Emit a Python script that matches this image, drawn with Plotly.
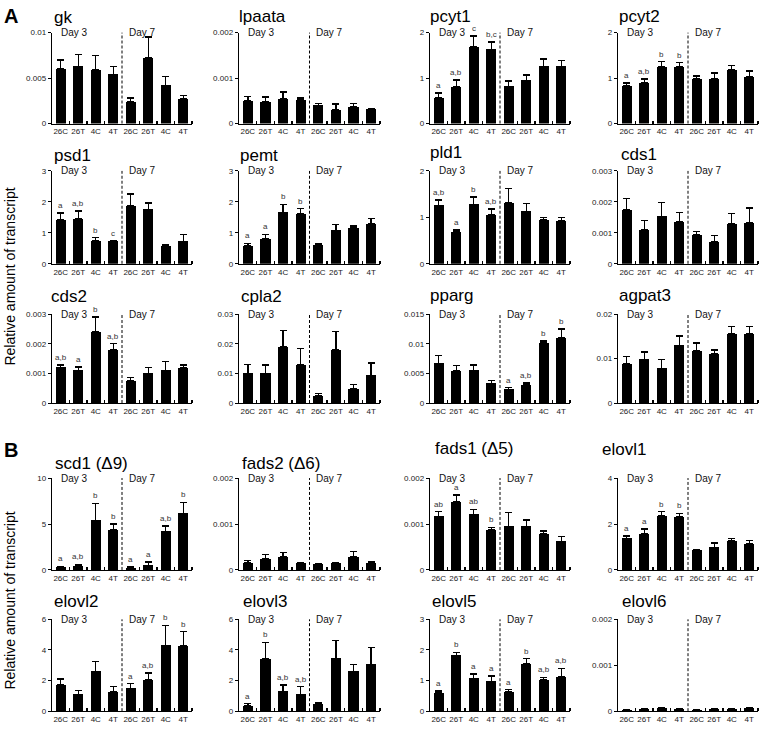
import plotly.graph_objects as go

# ---------------- data ----------------
conditions = ["26C", "26T", "4C", "4T", "26C", "26T", "4C", "4T"]

gk_vals = [0.0060, 0.0063, 0.0059, 0.0054, 0.0024, 0.0072, 0.0042, 0.0027]
gk_err = [0.0010, 0.0013, 0.0016, 0.0009, 0.0004, 0.0023, 0.0010, 0.0004]
lpaata_vals = [0.00050, 0.00047, 0.00055, 0.00052, 0.00040, 0.00030, 0.00036, 0.00031]
lpaata_err = [0.00010, 0.00011, 0.00014, 0.00004, 0.00004, 0.00013, 0.00008, 0.00001]
pcyt1_vals = [0.57, 0.80, 1.68, 1.63, 0.82, 0.95, 1.26, 1.26]
pcyt1_err = [0.10, 0.16, 0.25, 0.16, 0.12, 0.12, 0.16, 0.13]
pcyt2_vals = [0.83, 0.89, 1.24, 1.24, 0.98, 0.98, 1.18, 1.02]
pcyt2_err = [0.06, 0.09, 0.12, 0.10, 0.07, 0.13, 0.10, 0.14]
psd1_vals = [1.43, 1.45, 0.74, 0.73, 1.86, 1.76, 0.58, 0.72]
psd1_err = [0.21, 0.26, 0.10, 0.02, 0.39, 0.20, 0.05, 0.22]
pemt_vals = [0.58, 0.80, 1.66, 1.61, 0.61, 1.08, 1.17, 1.30]
pemt_err = [0.08, 0.15, 0.26, 0.17, 0.05, 0.19, 0.05, 0.17]
pld1_vals = [1.26, 0.68, 1.28, 1.05, 1.31, 1.13, 0.94, 0.93]
pld1_err = [0.11, 0.05, 0.16, 0.13, 0.31, 0.17, 0.06, 0.07]
cds1_vals = [0.00175, 0.00110, 0.00153, 0.00136, 0.00093, 0.00070, 0.00130, 0.00132]
cds1_err = [0.00035, 0.00029, 0.00044, 0.00029, 0.00011, 0.00021, 0.00032, 0.00048]
cds2_vals = [0.00120, 0.00110, 0.00240, 0.00180, 0.00076, 0.00100, 0.00110, 0.00118]
cds2_err = [0.00008, 0.00012, 0.00050, 0.00020, 0.00010, 0.00020, 0.00030, 0.00010]
cpla2_vals = [0.0100, 0.0100, 0.0190, 0.0130, 0.0024, 0.0179, 0.0048, 0.0093]
cpla2_err = [0.0030, 0.0028, 0.0055, 0.0055, 0.0008, 0.0063, 0.0015, 0.0042]
pparg_vals = [0.0067, 0.0054, 0.0055, 0.0033, 0.0023, 0.0031, 0.0101, 0.0110]
pparg_err = [0.0013, 0.0009, 0.0009, 0.0005, 0.0003, 0.0003, 0.0004, 0.0015]
agpat3_vals = [0.0088, 0.0098, 0.0078, 0.0130, 0.0118, 0.0111, 0.0155, 0.0156]
agpat3_err = [0.0017, 0.0017, 0.0020, 0.0021, 0.0017, 0.0008, 0.0017, 0.0016]
scd1_vals = [0.30, 0.48, 5.40, 4.35, 0.22, 0.50, 4.20, 6.15]
scd1_err = [0.10, 0.12, 1.85, 0.65, 0.08, 0.35, 0.60, 1.20]
fads2_vals = [0.00015, 0.00024, 0.00028, 0.00015, 0.00013, 0.00015, 0.00028, 0.00015]
fads2_err = [0.00005, 0.00009, 0.00010, 0.00001, 0.00001, 0.00001, 0.00012, 0.00002]
fads1_vals = [0.00117, 0.00148, 0.00121, 0.00087, 0.00095, 0.00095, 0.00079, 0.00062]
fads1_err = [0.00010, 0.00015, 0.00011, 0.00006, 0.00030, 0.00014, 0.00006, 0.00011]
elovl1_vals = [1.38, 1.58, 2.37, 2.32, 0.85, 0.99, 1.27, 1.15]
elovl1_err = [0.10, 0.21, 0.17, 0.14, 0.02, 0.18, 0.11, 0.12]
elovl2_vals = [1.70, 1.10, 2.60, 1.25, 1.50, 2.05, 4.30, 4.25]
elovl2_err = [0.40, 0.25, 0.65, 0.35, 0.30, 0.45, 1.30, 0.95]
elovl3_vals = [0.35, 3.40, 1.30, 1.10, 0.50, 3.45, 2.60, 3.05]
elovl3_err = [0.15, 1.10, 0.40, 0.50, 0.05, 1.15, 0.45, 1.10]
elovl5_vals = [0.60, 1.82, 1.07, 0.97, 0.62, 1.55, 1.03, 1.12]
elovl5_err = [0.06, 0.10, 0.15, 0.18, 0.08, 0.17, 0.07, 0.28]
elovl6_vals = [0.00003, 0.00004, 0.00006, 0.00004, 0.00003, 0.00005, 0.00005, 0.00006]
elovl6_err = [0.00001, 0.00001, 0.00002, 0.00001, 0.00001, 0.00001, 0.00001, 0.00002]

none8 = [""] * 8
pcyt1_sig = ["a", "a,b", "c", "b,c", "", "", "", ""]
pcyt2_sig = ["a", "a,b", "b", "b", "", "", "", ""]
psd1_sig = ["a", "a,b", "b", "c", "", "", "", ""]
pemt_sig = ["a", "a", "b", "b", "", "", "", ""]
pld1_sig = ["a,b", "a", "b", "a,b", "", "", "", ""]
cds2_sig = ["a,b", "a", "b", "a,b", "", "", "", ""]
pparg_sig = ["", "", "", "", "a", "a,b", "b", "b"]
scd1_sig = ["a", "a,b", "b", "b", "a", "a", "a,b", "b"]
fads1_sig = ["ab", "a", "ab", "b", "", "", "", ""]
elovl1_sig = ["a", "a", "b", "b", "", "", "", ""]
elovl2_sig = ["", "", "", "", "a", "a,b", "b", "b"]
elovl3_sig = ["a", "b", "a,b", "a,b", "", "", "", ""]
elovl5_sig = ["a", "b", "a", "a", "a", "b", "a,b", "a,b"]

ticks_001 = ([0, 0.005, 0.01], ["0", "0.005", "0.01"])
ticks_0002 = ([0, 0.001, 0.002], ["0", "0.001", "0.002"])
ticks_0003 = ([0, 0.001, 0.002, 0.003], ["0", "0.001", "0.002", "0.003"])
ticks_2 = ([0, 1, 2], ["0", "1", "2"])
ticks_3 = ([0, 1, 2, 3], ["0", "1", "2", "3"])
ticks_003 = ([0, 0.01, 0.02, 0.03], ["0", "0.01", "0.02", "0.03"])
ticks_0015 = ([0, 0.005, 0.01, 0.015], ["0", "0.005", "0.01", "0.015"])
ticks_002 = ([0, 0.01, 0.02], ["0", "0.01", "0.02"])
ticks_10 = ([0, 5, 10], ["0", "5", "10"])
ticks_4 = ([0, 2, 4], ["0", "2", "4"])
ticks_6 = ([0, 2, 4, 6], ["0", "2", "4", "6"])

# (title, values, errors, letters, ticks, title_y_px, title_dx_px)
panels = [
    ("gk", gk_vals, gk_err, none8, ticks_001, 14, 0),
    ("lpaata", lpaata_vals, lpaata_err, none8, ticks_0002, 13, -2),
    ("pcyt1", pcyt1_vals, pcyt1_err, pcyt1_sig, ticks_2, 13, -2),
    ("pcyt2", pcyt2_vals, pcyt2_err, pcyt2_sig, ticks_2, 13, -1),
    ("psd1", psd1_vals, psd1_err, psd1_sig, ticks_3, 153, 0),
    ("pemt", pemt_vals, pemt_err, pemt_sig, ticks_3, 153, -1),
    ("pld1", pld1_vals, pld1_err, pld1_sig, ticks_2, 150, -2),
    ("cds1", cds1_vals, cds1_err, none8, ticks_0003, 152, 1),
    ("cds2", cds2_vals, cds2_err, cds2_sig, ticks_0003, 296, -3),
    ("cpla2", cpla2_vals, cpla2_err, none8, ticks_003, 296, 0),
    ("pparg", pparg_vals, pparg_err, pparg_sig, ticks_0015, 295, -2),
    ("agpat3", agpat3_vals, agpat3_err, none8, ticks_002, 295, -1),
    ("scd1 (Δ9)", scd1_vals, scd1_err, scd1_sig, ticks_10, 465, 1),
    ("fads2 (Δ6)", fads2_vals, fads2_err, none8, ticks_0002, 465, 1),
    ("fads1 (Δ5)", fads1_vals, fads1_err, fads1_sig, ticks_0002, 450, 3),
    ("elovl1", elovl1_vals, elovl1_err, elovl1_sig, ticks_4, 451, -18),
    ("elovl2", elovl2_vals, elovl2_err, elovl2_sig, ticks_6, 605, 0),
    ("elovl3", elovl3_vals, elovl3_err, elovl3_sig, ticks_6, 605, 2),
    ("elovl5", elovl5_vals, elovl5_err, elovl5_sig, ticks_3, 605, 0),
    ("elovl6", elovl6_vals, elovl6_err, none8, ticks_0002, 605, 2),
]

# ---------------- layout geometry (pixels) ----------------
W, H = 761, 731
col_px = [(52, 192), (239, 380), (430, 570), (618, 758)]
row_px = [(121, 29), (263, 169), (404, 314), (573, 480), (716, 623)]

FONT = "Liberation Sans, Arial, sans-serif"
fig = go.Figure()
annotations = []
shapes = []
xpos = list(range(len(conditions)))

for i, (title, vals, errs, sig, ticks, ty, tdx) in enumerate(panels):
    r, c = divmod(i, 4)
    k = i + 1
    xs = "" if k == 1 else str(k)
    x0, x1 = col_px[c]
    yb, yt = row_px[r]
    fig.add_trace(go.Bar(
        x=xpos, y=vals, width=0.58,
        marker=dict(color="black", line=dict(width=0)),
        error_y=dict(type="data", symmetric=False, array=errs,
                     arrayminus=[0] * len(errs), color="black",
                     thickness=1.4, width=3.5),
        xaxis="x" + xs, yaxis="y" + xs, hoverinfo="skip",
    ))
    fig.update_layout(**{
        "xaxis" + xs: dict(
            domain=[x0 / W, x1 / W], anchor="y" + xs, range=[-0.5, 7.5],
            tickmode="array", tickvals=xpos, ticktext=conditions,
            ticks="", showline=True, linecolor="black", linewidth=1.3,
            showgrid=False, zeroline=False,
            tickfont=dict(size=8, color="#222", family=FONT),
            minor=dict(tickmode="array",
                       tickvals=[0.5, 1.5, 2.5, 4.5, 5.5, 6.5, 7.5],
                       ticks="inside", ticklen=3, tickwidth=1.3,
                       tickcolor="black", showgrid=False),
            fixedrange=True,
        ),
        "yaxis" + xs: dict(
            domain=[1 - yb / H, 1 - yt / H], anchor="x" + xs,
            range=[0, ticks[0][-1]], tickmode="array",
            tickvals=ticks[0], ticktext=ticks[1],
            ticks="outside", ticklen=3, tickwidth=1, tickcolor="black",
            showline=True, linecolor="black", linewidth=1.3,
            showgrid=False, zeroline=False,
            tickfont=dict(size=8, color="#222", family=FONT),
            fixedrange=True,
        ),
    })
    # day separator
    shapes.append(dict(type="line", xref="x" + xs, yref="y" + xs + " domain",
                       x0=3.5, x1=3.5, y0=0, y1=1.0,
                       line=dict(color="black", width=1, dash="3px,2px")))
    # day labels
    for txt, xv in (("Day 3", -0.08), ("Day 7", 3.78)):
        annotations.append(dict(text=txt, xref="x" + xs, yref="y" + xs + " domain",
                                x=xv, y=1.0, xanchor="left", yanchor="middle",
                                showarrow=False,
                                font=dict(size=10, color="#111", family=FONT)))
    # significance letters
    for j, s in enumerate(sig):
        if s:
            annotations.append(dict(text=s, xref="x" + xs, yref="y" + xs,
                                    x=j, y=vals[j] + errs[j], xanchor="center",
                                    yanchor="bottom", yshift=1, showarrow=False,
                                    font=dict(size=8, color="#333", family=FONT)))
    # panel title
    annotations.append(dict(text=title, xref="paper", yref="paper",
                            x=x0 / W, y=1 - ty / H, xanchor="left",
                            yanchor="middle", xshift=tdx, showarrow=False,
                            font=dict(size=17, color="black", family=FONT)))

# section letters and y-axis titles
annotations.append(dict(text="<b>A</b>", xref="paper", yref="paper", x=2 / W,
                        y=1 - 12 / H, xanchor="left", yanchor="middle",
                        showarrow=False, font=dict(size=20, color="black", family=FONT)))
annotations.append(dict(text="<b>B</b>", xref="paper", yref="paper", x=2 / W,
                        y=1 - 452 / H, xanchor="left", yanchor="middle",
                        showarrow=False, font=dict(size=20, color="black", family=FONT)))
for yc in (276, 604):
    annotations.append(dict(text="Relative amount of transcript", xref="paper",
                            yref="paper", x=10 / W, y=1 - yc / H, textangle=-90,
                            xanchor="center", yanchor="middle", showarrow=False,
                            font=dict(size=14, color="black", family=FONT)))

fig.update_layout(
    width=W, height=H, margin=dict(l=0, r=0, t=0, b=0),
    paper_bgcolor="white", plot_bgcolor="white", showlegend=False,
    bargap=0, annotations=annotations, shapes=shapes,
)

fig.write_html(
    "out.html",
    config={"displayModeBar": False, "staticPlot": True},
    post_script="document.body.style.margin='0';document.body.style.overflow='hidden';",
)
